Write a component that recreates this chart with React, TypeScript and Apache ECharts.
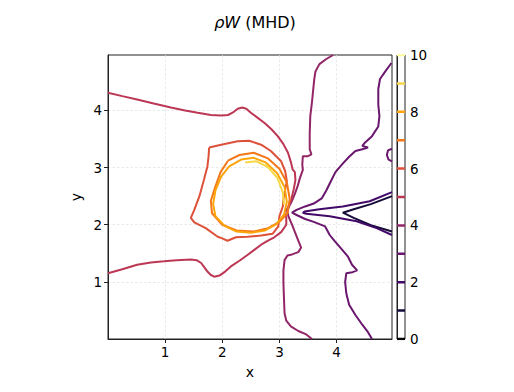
import React, { useEffect, useRef } from "react";
import * as echarts from "echarts";

// Contour levels and their inferno colours
const levels = [0, 1, 2, 3, 4, 5, 6, 7, 8, 9, 10];
const levelColors = [
  "#000004", "#160b39", "#420a68", "#6a176e", "#932667", "#bc3754",
  "#dd513a", "#f37819", "#fca50a", "#f6d746", "#fcffa4",
];
const xTicks = [1, 2, 3, 4];
const yTicks = [1, 2, 3, 4];
const cbTicks = [0, 2, 4, 6, 8, 10];

// Contour paths, [x, y]
const level1V = [
  [4.97, 2.5], [4.6, 2.36], [4.3, 2.27], [4.11, 2.21], [4.3, 2.12], [4.6, 1.99], [4.97, 1.88],
];
const level2V = [
  [4.97, 2.57], [4.58, 2.41], [4.11, 2.32], [3.7, 2.27], [3.44, 2.23], [3.41, 2.21],
  [3.47, 2.19], [3.88, 2.15], [4.35, 2.06], [4.7, 1.94], [4.97, 1.82],
];
const level3Main = [
  [4.96, 4.83], [4.85, 4.68], [4.76, 4.55], [4.73, 4.37], [4.73, 4.1], [4.75, 3.9],
  [4.73, 3.72], [4.62, 3.55], [4.5, 3.44], [4.45, 3.38], [4.55, 3.35], [4.45, 3.32],
  [4.33, 3.29], [4.22, 3.19], [4.1, 3.06], [3.98, 2.92], [3.9, 2.76], [3.82, 2.6],
  [3.74, 2.46], [3.6, 2.37], [3.45, 2.32], [3.3, 2.26], [3.22, 2.21], [3.3, 2.17],
  [3.45, 2.1], [3.6, 2.05], [3.8, 1.97], [3.88, 1.82], [3.96, 1.72], [4.1, 1.56],
  [4.2, 1.44], [4.27, 1.3], [4.36, 1.2], [4.28, 1.17], [4.17, 1.15], [4.15, 1.0],
  [4.17, 0.8], [4.22, 0.6], [4.33, 0.42], [4.45, 0.25], [4.55, 0.12], [4.62, 0.0],
];
const level3Edge = [
  [4.97, 3.33], [4.9, 3.3], [4.88, 3.22], [4.91, 3.14], [4.97, 3.11],
];
const level4Main = [
  [3.94, 4.97], [3.82, 4.9], [3.7, 4.81], [3.63, 4.68], [3.61, 4.55], [3.59, 4.35],
  [3.57, 4.15], [3.54, 3.9], [3.53, 3.6], [3.53, 3.32], [3.56, 3.23], [3.5, 3.2],
  [3.41, 3.2], [3.4, 3.05], [3.41, 2.96], [3.36, 2.82], [3.32, 2.68], [3.27, 2.54],
  [3.22, 2.42], [3.16, 2.3], [3.14, 2.22], [3.16, 2.14], [3.22, 2.0], [3.28, 1.85],
  [3.33, 1.72], [3.38, 1.6], [3.33, 1.52], [3.22, 1.48], [3.14, 1.46], [3.09, 1.38],
  [3.07, 1.2], [3.07, 0.98], [3.08, 0.7], [3.09, 0.45], [3.12, 0.32], [3.2, 0.22],
  [3.33, 0.14], [3.47, 0.08], [3.57, 0.0],
];
const level5Upper = [
  [0, 4.31], [0.25, 4.25], [0.51, 4.19], [0.8, 4.12], [1.1, 4.05], [1.35, 4.0],
  [1.57, 3.96], [1.8, 3.92], [1.98, 3.91], [2.1, 3.92], [2.18, 3.96], [2.27, 4.03],
  [2.35, 4.05], [2.42, 4.03], [2.5, 3.96], [2.62, 3.87], [2.74, 3.78], [2.86, 3.67],
  [2.97, 3.55], [3.07, 3.41], [3.15, 3.26], [3.2, 3.1], [3.23, 2.97], [3.27, 2.92],
  [3.28, 2.78], [3.25, 2.62], [3.21, 2.45], [3.15, 2.3], [3.1, 2.22],
];
const level5Lower = [
  [0, 1.15], [0.25, 1.22], [0.51, 1.3], [0.75, 1.34], [0.98, 1.36], [1.2, 1.38],
  [1.45, 1.39], [1.55, 1.38], [1.63, 1.33], [1.69, 1.25], [1.74, 1.18], [1.8, 1.12],
  [1.86, 1.09], [1.95, 1.11], [2.05, 1.18], [2.15, 1.27], [2.3, 1.37], [2.44, 1.47],
  [2.56, 1.56], [2.68, 1.65], [2.8, 1.72], [2.91, 1.78], [3.03, 1.87], [3.12, 2.0],
  [3.12, 2.12], [3.1, 2.2],
];
const level6Loop = [
  [1.77, 3.35], [1.98, 3.4], [2.27, 3.46], [2.47, 3.47], [2.68, 3.4], [2.85, 3.29],
  [3.03, 3.11], [3.1, 2.94], [3.13, 2.76], [3.1, 2.61], [3.07, 2.45], [3.06, 2.32],
  [3.0, 2.15], [2.98, 1.97], [2.88, 1.84], [2.68, 1.81], [2.44, 1.79], [2.24, 1.78],
  [2.09, 1.72], [2.0, 1.76], [1.92, 1.79], [1.71, 1.94], [1.51, 2.04], [1.45, 2.12],
  [1.51, 2.26], [1.6, 2.5], [1.68, 2.79], [1.74, 3.02], [1.76, 3.2], [1.77, 3.35],
];
const level7Loop = [
  [2.1, 3.12], [2.3, 3.22], [2.55, 3.26], [2.8, 3.16], [3.0, 2.98], [3.13, 2.74],
  [3.18, 2.45], [3.14, 2.2], [3.0, 2.05], [2.8, 1.94], [2.55, 1.88], [2.25, 1.9],
  [2.0, 2.0], [1.82, 2.2], [1.8, 2.42], [1.88, 2.67], [1.97, 2.92], [2.1, 3.12],
];
const level8Loop = [
  [2.12, 3.02], [2.33, 3.14], [2.55, 3.17], [2.76, 3.09], [2.96, 2.9], [3.09, 2.66],
  [3.13, 2.4], [3.08, 2.18], [2.95, 2.01], [2.75, 1.9], [2.5, 1.86], [2.25, 1.88],
  [2.04, 1.98], [1.88, 2.15], [1.84, 2.36], [1.88, 2.6], [1.98, 2.84], [2.12, 3.02],
];
const level9Arc = [
  [2.4, 3.09], [2.6, 3.11], [2.8, 3.01], [2.97, 2.81], [3.06, 2.56], [3.08, 2.35],
];

const contours = [
  { level: 1, points: level1V },
  { level: 2, points: level2V },
  { level: 3, points: level3Main },
  { level: 3, points: level3Edge },
  { level: 4, points: level4Main },
  { level: 5, points: level5Upper },
  { level: 5, points: level5Lower },
  { level: 6, points: level6Loop },
  { level: 7, points: level7Loop },
  { level: 8, points: level8Loop },
  { level: 9, points: level9Arc },
];

const FONT = "DejaVu Sans";

export default function App() {
  const ref = useRef<HTMLDivElement>(null);
  useEffect(() => {
    if (!ref.current) return;
    const chart = echarts.init(ref.current, undefined, { renderer: "svg" });
    const axisCommon = {
      axisLine: { show: true, lineStyle: { color: "#222", width: 1 } },
      axisTick: { show: true, length: 4, lineStyle: { color: "#222", width: 1 } },
    };
    const gridLine = { show: true, lineStyle: { color: "#e0e0e0", width: 0.7, type: [2.5, 2] } };
    chart.setOption({
      animation: false,
      backgroundColor: "#ffffff",
      title: {
        text: "{i|ρW} (MHD)",
        left: 250,
        top: 9,
        textAlign: "center",
        textStyle: {
          fontFamily: FONT,
          fontSize: 16,
          fontWeight: "normal",
          color: "#000",
          rich: { i: { fontFamily: FONT, fontSize: 16, fontStyle: "italic", color: "#000" } },
        },
      },
      grid: [
        { left: 108, top: 55, width: 284, height: 284, show: true, borderColor: "#222", borderWidth: 1, backgroundColor: "transparent" },
        { left: 397, top: 55, width: 8, height: 284, show: true, borderColor: "#222", borderWidth: 1, backgroundColor: "transparent" },
      ],
      xAxis: [
        {
          type: "value", gridIndex: 0, min: 0, max: 4.97, interval: 1,
          name: "x", nameLocation: "middle", nameGap: 26,
          nameTextStyle: { fontFamily: FONT, fontSize: 14, color: "#000" },
          ...axisCommon,
          axisTick: { show: true, length: 4, customValues: xTicks, lineStyle: { color: "#222" } },
          axisLabel: { customValues: xTicks, fontFamily: FONT, fontSize: 13.5, color: "#000", margin: 6 },
          splitLine: gridLine,
        },
        { type: "value", gridIndex: 1, min: 0, max: 1, show: false },
      ],
      yAxis: [
        {
          type: "value", gridIndex: 0, min: 0, max: 4.97, interval: 1,
          name: "y", nameLocation: "middle", nameGap: 25, nameRotate: 90,
          nameTextStyle: { fontFamily: FONT, fontSize: 14, color: "#000" },
          ...axisCommon,
          axisTick: { show: true, length: 4, customValues: yTicks, lineStyle: { color: "#222" } },
          axisLabel: { customValues: yTicks, fontFamily: FONT, fontSize: 13.5, color: "#000", margin: 6 },
          splitLine: gridLine,
        },
        {
          type: "value", gridIndex: 1, min: 0, max: 10, interval: 2, position: "right",
          ...axisCommon,
          axisLabel: { customValues: cbTicks, fontFamily: FONT, fontSize: 13.5, color: "#000", margin: 5 },
          splitLine: { show: false },
        },
      ],
      series: [
        ...contours.map((c) => ({
          type: "line",
          xAxisIndex: 0,
          yAxisIndex: 0,
          data: c.points,
          symbol: "none",
          silent: true,
          lineStyle: { color: levelColors[c.level], width: 2 },
          z: 2 + c.level,
        })),
        ...levels.map((l) => ({
          type: "line",
          xAxisIndex: 1,
          yAxisIndex: 1,
          data: [[0, l], [1, l]],
          symbol: "none",
          silent: true,
          lineStyle: { color: levelColors[l], width: 2.5 },
        })),
      ],
    });
    return () => chart.dispose();
  }, []);
  return <div ref={ref} style={{ position: "fixed", left: 0, top: 0, width: 514, height: 392 }} />;
}
